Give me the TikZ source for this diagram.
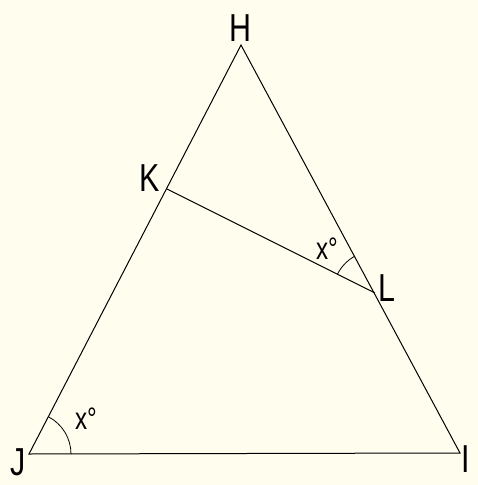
\documentclass[tikz,border=0pt]{standalone}
\usepackage{fontspec}
\setmainfont{Liberation Sans}[FakeStretch=0.78]
\definecolor{bg}{RGB}{255,253,238}
\tikzset{
  edge/.style={draw=black, line width=1pt},
  lab/.style={font=\fontsize{39}{40}\selectfont, inner sep=0pt},
  anglab/.style={font=\fontsize{31}{32}\selectfont, inner sep=0pt},
  arcline/.style={draw=black, line width=0.8pt}
}
\begin{document}
\begin{tikzpicture}[x=1pt,y=-1pt]
\fill[bg] (0,0) rectangle (478,485);
\useasboundingbox (0,0) rectangle (478,485);
\coordinate (H) at (241,45);
\coordinate (J) at (29,454);
\coordinate (I) at (460,453);
\coordinate (K) at (167,189);
\coordinate (L) at (375,293);
\draw[edge] (H) -- (J) -- (I) -- cycle;
\draw[edge] (K) -- (L);
% angle arcs
\draw[arcline] (J) ++(0:42) arc[start angle=0, end angle=-62.6, radius=42];
\draw[arcline] (L) ++(-153.4:42) arc[start angle=-153.4, end angle=-118.4, radius=42];
\node[lab] (hl) at (240,28) {H};
\node[lab] (kl) at (150,178) {K};
\node[lab] (ll) at (387,288) {L};
\node[lab] (jl) at (18,462) {J};
\node[lab] (il) at (466,459) {I};
\node[anglab] (a1) at (86,419) {x°};
\node[anglab] (a2) at (327,249) {x°};
\end{tikzpicture}
\end{document}
